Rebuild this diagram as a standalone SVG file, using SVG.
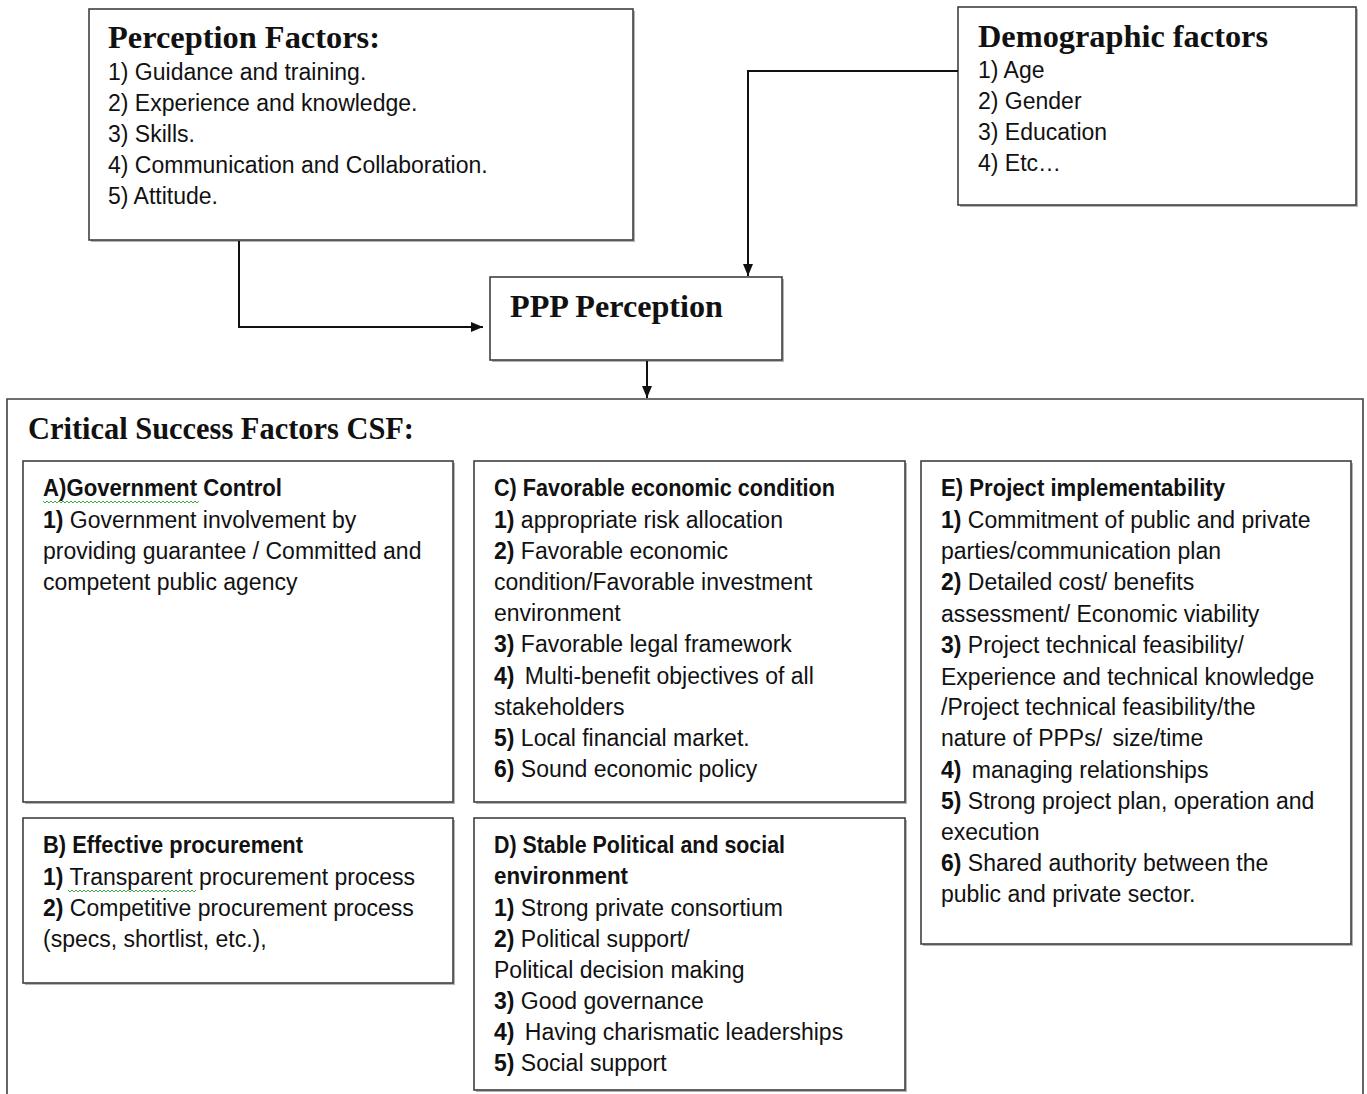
<svg xmlns="http://www.w3.org/2000/svg" width="1367" height="1094" viewBox="0 0 1367 1094">
<style>
.box{fill:#fff;stroke:#404040;stroke-width:1.6}
.shadow{fill:#b5b5b5}
.hd{font-family:"Liberation Serif","Times New Roman",serif;font-weight:bold;font-size:31px;fill:#111}
.tx{font-family:"Liberation Sans",Arial,sans-serif;font-size:23px;fill:#111}
.b{font-weight:bold}
.conn{fill:none;stroke:#111;stroke-width:2}
.wavy{fill:none;stroke:#3caa3c;stroke-width:1}
</style>
<defs>
<marker id="arr" viewBox="0 0 12 10" refX="12" refY="5" markerWidth="12" markerHeight="10" markerUnits="userSpaceOnUse" orient="auto">
<path d="M0,0 L12,5 L0,10 Z" fill="#111"/>
</marker>
</defs>
<rect width="1367" height="1094" fill="#fff"/>

<g id="perception-factors">
<rect class="shadow" x="91" y="11" width="544" height="231"/>
<rect class="box" x="89" y="9" width="544" height="231"/>
<text class="hd" x="108" y="48" textLength="272" lengthAdjust="spacingAndGlyphs">Perception Factors:</text>
<text class="tx" x="108" y="80">1) Guidance and training.</text>
<text class="tx" x="108" y="111">2) Experience and knowledge.</text>
<text class="tx" x="108" y="142">3) Skills.</text>
<text class="tx" x="108" y="173">4) Communication and Collaboration.</text>
<text class="tx" x="108" y="204">5) Attitude.</text>
</g>

<g id="demographic-factors">
<rect class="shadow" x="960" y="9" width="398" height="198"/>
<rect class="box" x="958" y="7" width="398" height="198"/>
<text class="hd" x="978" y="47" textLength="290" lengthAdjust="spacingAndGlyphs">Demographic factors</text>
<text class="tx" x="978" y="78">1) Age</text>
<text class="tx" x="978" y="109">2) Gender</text>
<text class="tx" x="978" y="140">3) Education</text>
<text class="tx" x="978" y="171">4) Etc…</text>
</g>

<g id="ppp-perception">
<rect class="shadow" x="492" y="279" width="292" height="83"/>
<rect class="box" x="490" y="277" width="292" height="83"/>
<text class="hd" x="510" y="317" textLength="213" lengthAdjust="spacingAndGlyphs">PPP Perception</text>
</g>

<g id="csf">
<path d="M7,1100 V399 H1363 V1100" fill="none" stroke="#404040" stroke-width="1.6"/>
<text class="hd" x="28" y="439" textLength="386" lengthAdjust="spacingAndGlyphs">Critical Success Factors CSF:</text>
</g>

<g id="box-a">
<rect class="shadow" x="25" y="463" width="430" height="341"/>
<rect class="box" x="23" y="461" width="430" height="341"/>
<text class="tx b" x="43" y="496" textLength="239" lengthAdjust="spacingAndGlyphs">A)Government Control</text>
<path class="wavy" d="M43,501 l2,2 l2,-2 l2,2 l2,-2 l2,2 l2,-2 l2,2 l2,-2 l2,2 l2,-2 l2,2 l2,-2 l2,2 l2,-2 l2,2 l2,-2 l2,2 l2,-2 l2,2 l2,-2 l2,2 l2,-2 l2,2 l2,-2 l2,2 l2,-2 l2,2 l2,-2 l2,2 l2,-2 l2,2 l2,-2 l2,2 l2,-2 l2,2 l2,-2 l2,2 l2,-2 l2,2 l2,-2 l2,2 l2,-2 l2,2 l2,-2 l2,2 l2,-2 l2,2 l2,-2 l2,2 l2,-2 l2,2 l2,-2 l2,2 l2,-2 l2,2 l2,-2 l2,2 l2,-2 l2,2 l2,-2 l2,2 l2,-2 l2,2 l2,-2 l2,2 l2,-2 l2,2 l2,-2 l2,2 l2,-2 l2,2 l2,-2 l2,2 l2,-2 l2,2 l2,-2 l2,2 l2,-2"/>
<text class="tx" x="43" y="528"><tspan class="b">1)</tspan> Government involvement by</text>
<text class="tx" x="43" y="559">providing guarantee / Committed and</text>
<text class="tx" x="43" y="590">competent public agency</text>
</g>

<g id="box-b">
<rect class="shadow" x="25" y="820" width="430" height="165"/>
<rect class="box" x="23" y="818" width="430" height="165"/>
<text class="tx b" x="43" y="853" textLength="260" lengthAdjust="spacingAndGlyphs">B) Effective procurement</text>
<text class="tx" x="43" y="885"><tspan class="b">1)</tspan> Transparent procurement process</text>
<path class="wavy" d="M68,890 l2,2 l2,-2 l2,2 l2,-2 l2,2 l2,-2 l2,2 l2,-2 l2,2 l2,-2 l2,2 l2,-2 l2,2 l2,-2 l2,2 l2,-2 l2,2 l2,-2 l2,2 l2,-2 l2,2 l2,-2 l2,2 l2,-2 l2,2 l2,-2 l2,2 l2,-2 l2,2 l2,-2 l2,2 l2,-2 l2,2 l2,-2 l2,2 l2,-2 l2,2 l2,-2 l2,2 l2,-2 l2,2 l2,-2 l2,2 l2,-2 l2,2 l2,-2 l2,2 l2,-2 l2,2 l2,-2 l2,2 l2,-2 l2,2 l2,-2 l2,2 l2,-2 l2,2 l2,-2 l2,2 l2,-2 l2,2 l2,-2 l2,2 l2,-2"/>
<text class="tx" x="43" y="916"><tspan class="b">2)</tspan> Competitive procurement process</text>
<text class="tx" x="43" y="947">(specs, shortlist, etc.),</text>
</g>

<g id="box-c">
<rect class="shadow" x="476" y="463" width="431" height="341"/>
<rect class="box" x="474" y="461" width="431" height="341"/>
<text class="tx b" x="494" y="496" textLength="341" lengthAdjust="spacingAndGlyphs">C) Favorable economic condition</text>
<text class="tx" x="494" y="528"><tspan class="b">1)</tspan> appropriate risk allocation</text>
<text class="tx" x="494" y="559"><tspan class="b">2)</tspan> Favorable economic</text>
<text class="tx" x="494" y="590">condition/Favorable investment</text>
<text class="tx" x="494" y="621">environment</text>
<text class="tx" x="494" y="652"><tspan class="b">3)</tspan> Favorable legal framework</text>
<text class="tx" x="494" y="684"><tspan class="b">4)</tspan><tspan dx="4"> Multi-benefit objectives of all</tspan></text>
<text class="tx" x="494" y="715">stakeholders</text>
<text class="tx" x="494" y="746"><tspan class="b">5)</tspan> Local financial market.</text>
<text class="tx" x="494" y="777"><tspan class="b">6)</tspan> Sound economic policy</text>
</g>

<g id="box-d">
<rect class="shadow" x="476" y="820" width="431" height="272"/>
<rect class="box" x="474" y="818" width="431" height="272"/>
<text class="tx b" x="494" y="853" textLength="291" lengthAdjust="spacingAndGlyphs">D) Stable Political and social</text>
<text class="tx b" x="494" y="884" textLength="134" lengthAdjust="spacingAndGlyphs">environment</text>
<text class="tx" x="494" y="916"><tspan class="b">1)</tspan> Strong private consortium</text>
<text class="tx" x="494" y="947"><tspan class="b">2)</tspan> Political support/</text>
<text class="tx" x="494" y="978">Political decision making</text>
<text class="tx" x="494" y="1009"><tspan class="b">3)</tspan> Good governance</text>
<text class="tx" x="494" y="1040"><tspan class="b">4)</tspan><tspan dx="4"> Having charismatic leaderships</tspan></text>
<text class="tx" x="494" y="1071"><tspan class="b">5)</tspan> Social support</text>
</g>

<g id="box-e">
<rect class="shadow" x="923" y="463" width="430" height="483"/>
<rect class="box" x="921" y="461" width="430" height="483"/>
<text class="tx b" x="941" y="496" textLength="284" lengthAdjust="spacingAndGlyphs">E) Project implementability</text>
<text class="tx" x="941" y="528"><tspan class="b">1)</tspan> Commitment of public and private</text>
<text class="tx" x="941" y="559">parties/communication plan</text>
<text class="tx" x="941" y="590"><tspan class="b">2)</tspan> Detailed cost/ benefits</text>
<text class="tx" x="941" y="622">assessment/ Economic viability</text>
<text class="tx" x="941" y="653"><tspan class="b">3)</tspan> Project technical feasibility/</text>
<text class="tx" x="941" y="685">Experience and technical knowledge</text>
<text class="tx" x="941" y="715">/Project technical feasibility/the</text>
<text class="tx" x="941" y="746">nature of PPPs/<tspan dx="4"> size/time</tspan></text>
<text class="tx" x="941" y="778"><tspan class="b">4)</tspan><tspan dx="4"> managing relationships</tspan></text>
<text class="tx" x="941" y="809"><tspan class="b">5)</tspan> Strong project plan, operation and</text>
<text class="tx" x="941" y="840">execution</text>
<text class="tx" x="941" y="871"><tspan class="b">6)</tspan> Shared authority between the</text>
<text class="tx" x="941" y="902">public and private sector.</text>
</g>

<g id="connectors">
<path class="conn" d="M239,241 V327 H483" marker-end="url(#arr)"/>
<path class="conn" d="M958,71 H748 V276" marker-end="url(#arr)"/>
<path class="conn" d="M647,361 V398" marker-end="url(#arr)"/>
</g>
</svg>
